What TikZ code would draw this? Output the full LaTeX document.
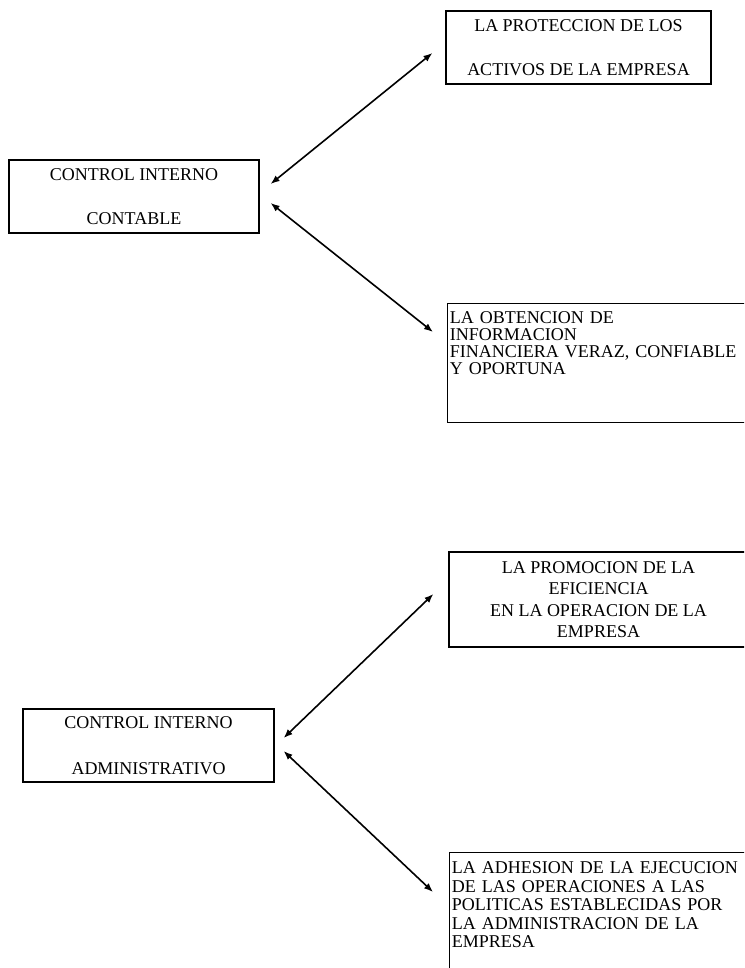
\documentclass[tikz,border=0pt]{standalone}
\usepackage{fontspec}
\setmainfont{Liberation Serif}
\usetikzlibrary{arrows.meta}
\begin{document}
\begin{tikzpicture}[x=1pt,y=-1pt,
		caja/.style={draw,line width=1.2pt,inner sep=0pt,align=center,font=\fontsize{18}{18}\selectfont},
		lista/.style={draw,line width=1.2pt,anchor=north west,align=left,inner xsep=2.3pt,text height=12pt,text width=360pt},
		flecha/.style={{Latex[length=9pt,width=7pt]}-{Latex[length=9pt,width=7pt]},line width=1.6pt}]
		\useasboundingbox (0,0) rectangle (744,968);
		\clip (0,0) rectangle (744,968);
		\node[caja,minimum width=250pt,minimum height=73pt] (cic) at (134,196.5) {CONTROL INTERNO\\[26pt]CONTABLE};
		\node[caja,minimum width=265pt,minimum height=73pt] (pro) at (578.5,47.5) {LA PROTECCION DE LOS\\[26pt]ACTIVOS DE LA EMPRESA};
		\node[lista,inner ysep=8pt,text depth=91pt,font=\fontsize{18}{17}\selectfont] (obt) at (447,303) {LA OBTENCION DE\\INFORMACION\\FINANCIERA VERAZ, CONFIABLE\\Y OPORTUNA};
		\node[caja,minimum width=299pt,minimum height=95pt,font=\fontsize{18}{21.5}\selectfont] (efi) at (598.5,599.5) {LA PROMOCION DE LA\\EFICIENCIA\\EN LA OPERACION DE LA\\EMPRESA};
		\node[caja,minimum width=251pt,minimum height=73pt] (cia) at (148.5,745.5) {CONTROL INTERNO\\[28pt]ADMINISTRATIVO};
		\node[lista,inner ysep=9pt,text depth=150pt,font=\fontsize{18}{18.5}\selectfont] (adh) at (449,852) {LA ADHESION DE LA EJECUCION\\DE LAS OPERACIONES A LAS\\POLITICAS ESTABLECIDAS POR\\LA ADMINISTRACION DE LA\\EMPRESA};
		\draw[flecha] ([shift={(11,-12.5)}]cic.east) -- ([shift={(-13,5.5)}]pro.west);
		\draw[flecha] ([shift={(11,6.5)}]cic.east) -- ([shift={(-14,29)}]obt.north west);
		\draw[flecha] ([shift={(9,-7.5)}]cia.east) -- ([shift={(-15,-5.5)}]efi.west);
		\draw[flecha] ([shift={(9,5.5)}]cia.east) -- ([shift={(-16,40)}]adh.north west);
	\end{tikzpicture}
\end{document}
